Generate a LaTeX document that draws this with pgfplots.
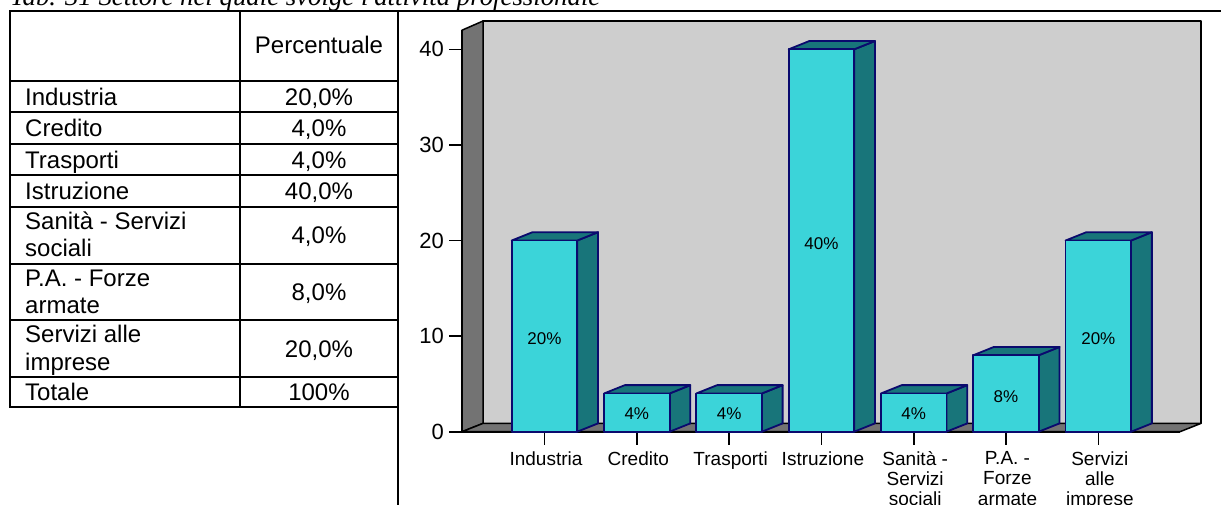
\documentclass[border=0pt]{standalone}
\usepackage{fontspec}
\setmainfont{Liberation Sans}
\newfontfamily\timesfont{Liberation Serif}
\usepackage{pgfplots}
\pgfplotsset{compat=1.18}
\definecolor{barface}{HTML}{3BD4D9}
\definecolor{barside}{HTML}{18757A}
\definecolor{baredge}{HTML}{0A0A6E}
\definecolor{wallback}{HTML}{CECECE}
\definecolor{walldark}{HTML}{737373}
\newcommand{\fs}[1]{\fontsize{#1}{#1}\selectfont}
\begin{document}
\begin{tikzpicture}
\path[use as bounding box,clip] (0pt,0pt) rectangle (1221pt,504pt);
\begin{scope}[x=1pt,y=-1pt,yshift=504pt]
\node[anchor=base west,inner sep=0pt,font=\timesfont\itshape\fs{26.8}] at (10,5.5) {Tab. 31 Settore nel quale svolge l'attività professionale};
\draw[line width=2.2pt,line cap=rect] (10,11) -- (1221,11);
\draw[line width=2.2pt,line cap=rect] (10,11) -- (10,407) (240,11) -- (240,407) (398,11) -- (398,504);
\foreach \yy in {81,112,144,175,207,264,320,377,407}
  \draw[line width=2.2pt,line cap=rect] (10,\yy) -- (398,\yy);
\begin{scope}[every node/.style={anchor=base west,inner sep=0pt,font=\fs{24}}]
\node at (25,105.5) {Industria};
\node at (25,137) {Credito};
\node at (25,168.5) {Trasporti};
\node at (25,200) {Istruzione};
\node at (25,230) {Sanità - Servizi};
\node at (25,257) {sociali};
\node at (25,287) {P.A. - Forze};
\node at (25,313.5) {armate};
\node at (25,343) {Servizi alle};
\node at (25,370) {imprese};
\node at (25,400.5) {Totale};
\end{scope}
\begin{scope}[every node/.style={anchor=base,inner sep=0pt,font=\fs{24}}]
\node at (319,54) {Percentuale};
\node at (319,105.5) {20,0\%};
\node at (319,137) {4,0\%};
\node at (319,168.5) {4,0\%};
\node at (319,200) {40,0\%};
\node at (319,244) {4,0\%};
\node at (319,300) {8,0\%};
\node at (319,357) {20,0\%};
\node at (319,400.5) {100\%};
\end{scope}
\end{scope}
\begin{axis}[
  at={(462pt,72.3pt)},anchor=south west,
  scale only axis,width=718pt,height=401.5pt,
  xmin=0.1062,xmax=7.885,ymin=0,ymax=42,
  clip=false,
  axis x line*=bottom,axis y line*=left,
  axis line style={black,line width=2pt,-},
  tick align=outside,
  tick style={black,line width=1.6pt},
  major tick length=13pt,
  xtick={1,2,3,4,5,6,7},
  xticklabels={Industria,Credito,Trasporti,Istruzione,{Sanità -\\Servizi\\sociali},{P.A. -\\Forze\\armate},{Servizi\\alle\\imprese}},
  x tick label style={align=center,font=\fontsize{19}{20.3}\selectfont,inner sep=0pt,anchor=north,yshift=-6.5pt,xshift=1.5pt},
  ytick={0,10,20,30,40},
  y tick label style={font=\fs{22},inner sep=0pt,anchor=east,xshift=-5pt,/pgf/number format/assume math mode=true},
]
% walls and floor
\addplot[fill=wallback,draw=black,line width=1.5pt] coordinates {(0.3337,0.87) (8.1125,0.87) (8.1125,42.96) (0.3337,42.96)} --cycle;
\addplot[fill=walldark,draw=black,line width=1.5pt] coordinates {(0.1062,0) (0.3337,0.87) (0.3337,42.96) (0.1062,42)} --cycle;
\addplot[fill=walldark,draw=black,line width=1.5pt] coordinates {(0.1062,0) (0.3337,0.87) (8.1125,0.87) (7.885,0)} --cycle;
% bar sides and tops
\pgfplotsset{every axis plot/.append style={line width=1.8pt,line join=round}}
\addplot[fill=barside,draw=baredge] coordinates {(1.355,0) (1.58,0.87) (1.58,20.87) (1.355,20)} --cycle;
\addplot[fill=barside,draw=baredge] coordinates {(0.645,20) (0.87,20.87) (1.58,20.87) (1.355,20)} --cycle;
\addplot[fill=barside,draw=baredge] coordinates {(2.355,0) (2.58,0.87) (2.58,4.87) (2.355,4)} --cycle;
\addplot[fill=barside,draw=baredge] coordinates {(1.645,4) (1.87,4.87) (2.58,4.87) (2.355,4)} --cycle;
\addplot[fill=barside,draw=baredge] coordinates {(3.355,0) (3.58,0.87) (3.58,4.87) (3.355,4)} --cycle;
\addplot[fill=barside,draw=baredge] coordinates {(2.645,4) (2.87,4.87) (3.58,4.87) (3.355,4)} --cycle;
\addplot[fill=barside,draw=baredge] coordinates {(4.355,0) (4.58,0.87) (4.58,40.87) (4.355,40)} --cycle;
\addplot[fill=barside,draw=baredge] coordinates {(3.645,40) (3.87,40.87) (4.58,40.87) (4.355,40)} --cycle;
\addplot[fill=barside,draw=baredge] coordinates {(5.355,0) (5.58,0.87) (5.58,4.87) (5.355,4)} --cycle;
\addplot[fill=barside,draw=baredge] coordinates {(4.645,4) (4.87,4.87) (5.58,4.87) (5.355,4)} --cycle;
\addplot[fill=barside,draw=baredge] coordinates {(6.355,0) (6.58,0.87) (6.58,8.87) (6.355,8)} --cycle;
\addplot[fill=barside,draw=baredge] coordinates {(5.645,8) (5.87,8.87) (6.58,8.87) (6.355,8)} --cycle;
\addplot[fill=barside,draw=baredge] coordinates {(7.355,0) (7.58,0.87) (7.58,20.87) (7.355,20)} --cycle;
\addplot[fill=barside,draw=baredge] coordinates {(6.645,20) (6.87,20.87) (7.58,20.87) (7.355,20)} --cycle;
% bar fronts
\addplot[ybar,bar width=65.6pt,bar shift=0pt,fill=barface,draw=baredge] coordinates {(1,20) (2,4) (3,4) (4,40) (5,4) (6,8) (7,20)};
% labels
\addplot[only marks,mark=none,point meta=explicit symbolic,nodes near coords,
  nodes near coords style={anchor=center,inner sep=0pt,font=\fs{17},text=black}]
  coordinates {(1,9.7) [20\%] (2,1.9) [4\%] (3,1.9) [4\%] (4,19.7) [40\%] (5,1.9) [4\%] (6,3.7) [8\%] (7,9.7) [20\%]};
\end{axis}
\end{tikzpicture}
\end{document}
